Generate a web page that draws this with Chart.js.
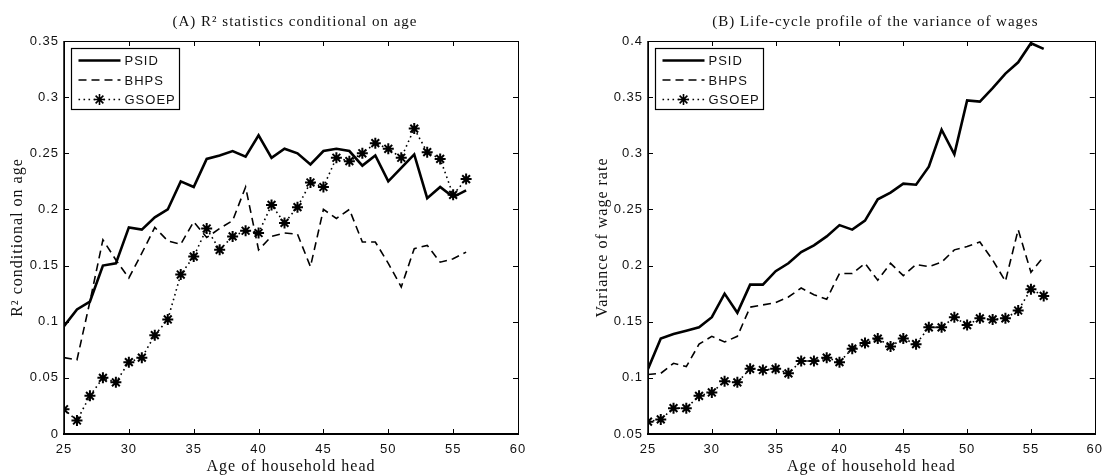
<!DOCTYPE html>
<html>
<head>
<meta charset="utf-8">
<script src="https://cdn.jsdelivr.net/npm/chart.js@4.4.1/dist/chart.umd.min.js"></script>
<style>
  body { margin: 0; background: #fff; }
  #wrap { position: relative; width: 1110px; height: 476px; }
  .panel { position: absolute; top: 0; width: 555px; height: 476px; }
</style>
</head>
<body>
<div id="wrap">
  <div class="panel" style="left:0"><canvas id="chartA" width="555" height="476"></canvas></div>
  <div class="panel" style="left:555px"><canvas id="chartB" width="555" height="476"></canvas></div>
</div>
<script>
// ages of household head (x categories)
var ages = [25, 26, 27, 28, 29, 30, 31, 32, 33, 34, 35, 36, 37, 38, 39, 40,
            41, 42, 43, 44, 45, 46, 47, 48, 49, 50, 51, 52, 53, 54, 55, 56];
var seriesNames = ['PSID', 'BHPS', 'GSOEP'];

// tick labels
var xTicks = [25, 30, 35, 40, 45, 50, 55, 60];
var xTickLabels = ['25', '30', '35', '40', '45', '50', '55', '60'];
var yTicksA = [0, 0.05, 0.1, 0.15, 0.2, 0.25, 0.3, 0.35];
var yTickLabelsA = ['0', '0.05', '0.1', '0.15', '0.2', '0.25', '0.3', '0.35'];
var yTicksB = [0.05, 0.1, 0.15, 0.2, 0.25, 0.3, 0.35, 0.4];
var yTickLabelsB = ['0.05', '0.1', '0.15', '0.2', '0.25', '0.3', '0.35', '0.4'];

// (A) R2 conditional on age
var r2Psid = [0.096, 0.111, 0.118, 0.150, 0.152, 0.184, 0.182, 0.193, 0.200, 0.225, 0.220,
              0.245, 0.248, 0.252, 0.247, 0.266, 0.246, 0.254, 0.250, 0.240, 0.252, 0.254,
              0.252, 0.239, 0.248, 0.225, 0.237, 0.249, 0.210, 0.220, 0.211, 0.217];
var r2Bhps = [0.068, 0.066, 0.118, 0.173, 0.155, 0.139, 0.161, 0.184, 0.172, 0.169, 0.189,
              0.175, 0.183, 0.190, 0.220, 0.164, 0.176, 0.179, 0.178, 0.149, 0.200, 0.192,
              0.200, 0.171, 0.171, 0.152, 0.131, 0.165, 0.168, 0.153, 0.156, 0.162];
var r2Gsoep = [0.022, 0.012, 0.034, 0.050, 0.046, 0.064, 0.068, 0.088, 0.102, 0.142, 0.158,
               0.183, 0.164, 0.176, 0.181, 0.179, 0.204, 0.188, 0.202, 0.224, 0.220, 0.246,
               0.243, 0.250, 0.259, 0.254, 0.246, 0.272, 0.251, 0.245, 0.213, 0.227];

// (B) variance of wages
var varPsid = [0.108, 0.135, 0.139, 0.142, 0.145, 0.154, 0.175, 0.158, 0.183, 0.183, 0.195,
               0.202, 0.212, 0.218, 0.226, 0.236, 0.232, 0.240, 0.259, 0.265, 0.273, 0.272,
               0.288, 0.321, 0.299, 0.347, 0.346, 0.358, 0.371, 0.381, 0.398, 0.393];
var varBhps = [0.103, 0.104, 0.113, 0.110, 0.130, 0.137, 0.132, 0.137, 0.163, 0.165, 0.167,
               0.172, 0.180, 0.174, 0.170, 0.193, 0.193, 0.202, 0.187, 0.202, 0.191, 0.201,
               0.199, 0.203, 0.214, 0.217, 0.221, 0.205, 0.186, 0.232, 0.194, 0.208];
var varGsoep = [0.061, 0.063, 0.073, 0.073, 0.084, 0.087, 0.097, 0.096, 0.108, 0.107, 0.108,
                0.104, 0.115, 0.115, 0.118, 0.114, 0.126, 0.131, 0.135, 0.128, 0.135, 0.130,
                0.145, 0.145, 0.154, 0.147, 0.153, 0.152, 0.153, 0.160, 0.179, 0.173];

var serif = '"Liberation Serif", "Times New Roman", serif';
var sans = '"Liberation Sans", Arial, sans-serif';

function toPoints(values) {
  return values.map(function(v, i) { return { x: ages[i], y: v }; });
}

function makeDatasets(psid, bhps, gsoep) {
  return [
    { label: seriesNames[0], data: toPoints(psid), borderColor: '#000', borderWidth: 2.6,
      pointRadius: 0, tension: 0 },
    { label: seriesNames[1], data: toPoints(bhps), borderColor: '#000', borderWidth: 1.6,
      borderDash: [8, 5], pointRadius: 0, tension: 0 },
    { label: seriesNames[2], data: toPoints(gsoep), borderColor: '#000', borderWidth: 1.6,
      borderDash: [1.6, 3.4], pointStyle: 'star', pointRadius: 5.5, pointBorderWidth: 2,
      pointBorderColor: '#000', pointBackgroundColor: '#000', tension: 0 }
  ];
}

// frame, inward ticks, panel title and legend box (MATLAB look)
var framePlugin = {
  id: 'frame',
  beforeDraw: function(chart) {
    // MATLAB export spreads the glyphs a little
    chart.ctx.letterSpacing = '1px';
  },
  afterDraw: function(chart, args, opts) {
    var ctx = chart.ctx, a = chart.chartArea;
    var xs = chart.scales.x, ys = chart.scales.y;
    ctx.save();
    ctx.strokeStyle = '#000';
    ctx.fillStyle = '#000';
    ctx.setLineDash([]);
    ctx.lineWidth = 1;
    ctx.beginPath();
    xs.ticks.forEach(function(t) {
      var px = Math.round(xs.getPixelForValue(t.value)) + 0.5;
      ctx.moveTo(px, a.top); ctx.lineTo(px, a.top + 5);
      ctx.moveTo(px, a.bottom); ctx.lineTo(px, a.bottom - 5);
    });
    ys.ticks.forEach(function(t) {
      var py = Math.round(ys.getPixelForValue(t.value)) + 0.5;
      ctx.moveTo(a.left, py); ctx.lineTo(a.left + 5, py);
      ctx.moveTo(a.right, py); ctx.lineTo(a.right - 5, py);
    });
    ctx.stroke();
    // box
    ctx.strokeRect(Math.round(a.left) + 0.5, Math.round(a.top) + 0.5,
                   Math.round(a.right - a.left), Math.round(a.bottom - a.top));
    ctx.lineWidth = 2;
    ctx.beginPath();
    ctx.moveTo(a.left - 1, Math.round(a.bottom));
    ctx.lineTo(a.right + 1, Math.round(a.bottom));
    ctx.stroke();
    ctx.lineWidth = 1.5;
    ctx.beginPath();
    ctx.moveTo(Math.round(a.left), a.top);
    ctx.lineTo(Math.round(a.left), a.bottom);
    ctx.stroke();

    // title
    ctx.font = '15px ' + serif;
    ctx.textAlign = 'center';
    ctx.textBaseline = 'middle';
    ctx.fillStyle = '#111';
    ctx.fillText(opts.title, (a.left + a.right) / 2 + 4, 22);

    // legend
    var bx = Math.round(a.left) + 7.5, by = Math.round(a.top) + 7.5;
    ctx.fillStyle = '#fff';
    ctx.fillRect(bx, by, 108, 61);
    ctx.lineWidth = 1.2;
    ctx.strokeRect(bx, by, 108, 61);
    ctx.font = '13px ' + sans;
    ctx.textAlign = 'left';
    chart.data.datasets.forEach(function(ds, i) {
      var y = by + 12 + i * 19.5;
      ctx.strokeStyle = '#000';
      ctx.lineWidth = ds.borderWidth;
      ctx.setLineDash(ds.borderDash || []);
      ctx.beginPath();
      ctx.moveTo(bx + 7, y);
      ctx.lineTo(bx + 49, y);
      ctx.stroke();
      ctx.setLineDash([]);
      if (ds.pointStyle === 'star') {
        Chart.helpers.drawPoint(ctx, { pointStyle: 'star', radius: ds.pointRadius,
          rotation: 0, borderWidth: ds.pointBorderWidth }, bx + 28, y);
      }
      ctx.fillStyle = '#111';
      ctx.fillText(ds.label, bx + 53, y + 1);
    });
    ctx.restore();
  }
};

function makeChart(id, datasets, yTicks, yLabels, title, yTitle, pad, yWidth) {
  return new Chart(document.getElementById(id), {
    type: 'line',
    data: { datasets: datasets },
    plugins: [framePlugin],
    options: {
      responsive: false,
      animation: false,
      layout: { padding: pad },
      plugins: {
        legend: { display: false },
        tooltip: { enabled: false },
        frame: { title: title }
      },
      scales: {
        x: {
          type: 'linear', min: xTicks[0], max: xTicks[xTicks.length - 1],
          grid: { display: false, drawTicks: false }, border: { display: false },
          afterBuildTicks: function(s) { s.ticks = xTicks.map(function(v) { return { value: v }; }); },
          afterFit: function(s) { s.height = 42; },
          ticks: {
            padding: 8, color: '#111', maxRotation: 0,
            font: { family: sans, size: 13 },
            callback: function(v, i) { return xTickLabels[i]; }
          },
          title: {
            display: true, text: 'Age of household head', color: '#111',
            font: { family: serif, size: 16 }, padding: { top: 0, bottom: 0 }
          }
        },
        y: {
          type: 'linear', min: yTicks[0], max: yTicks[yTicks.length - 1],
          grid: { display: false, drawTicks: false }, border: { display: false },
          afterBuildTicks: function(s) { s.ticks = yTicks.map(function(v) { return { value: v }; }); },
          afterFit: function(s) { s.width = yWidth; },
          ticks: {
            padding: 5, color: '#111',
            font: { family: sans, size: 13 },
            callback: function(v, i) { return yLabels[i]; }
          },
          title: {
            display: true, text: yTitle, color: '#111',
            font: { family: serif, size: 16 }, padding: { top: 8, bottom: 0 }
          }
        }
      }
    }
  });
}

makeChart('chartA', makeDatasets(r2Psid, r2Bhps, r2Gsoep), yTicksA, yTickLabelsA,
  '(A) R² statistics conditional on age', 'R² conditional on age',
  { left: 0, right: 37, top: 41, bottom: 0 }, 64);

makeChart('chartB', makeDatasets(varPsid, varBhps, varGsoep), yTicksB, yTickLabelsB,
  '(B) Life-cycle profile of the variance of wages', 'Variance of wage rate',
  { left: 30, right: 9, top: 41, bottom: 0 }, 63);
</script>
</body>
</html>
